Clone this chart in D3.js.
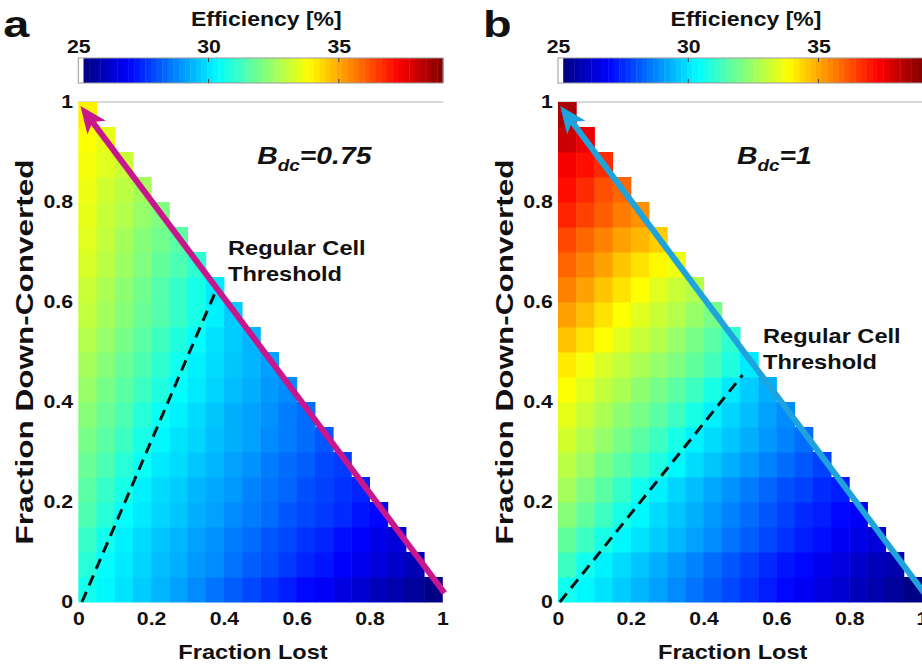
<!DOCTYPE html>
<html>
<head>
<meta charset="utf-8">
<script src="https://cdn.jsdelivr.net/npm/d3@7"></script>
<style>
body { margin: 0; background: #fff; }
text { font-family: "Liberation Sans", Arial, sans-serif; font-weight: bold; fill: #111; }
</style>
</head>
<body>
<div id="chart"></div>
<script>
// efficiency [%], rows bottom-up (fraction down-converted 0, 0.05, ...), columns = fraction lost 0, 0.05, ...
const effA = [
    [30.6, 30.3, 30.0, 29.7, 29.4, 29.1, 28.8, 28.5, 28.2, 27.9, 27.6, 27.3, 27.0, 26.8, 26.5, 26.3, 26.0, 25.8, 25.6, 25.3],
    [30.9, 30.4, 30.1, 29.8, 29.5, 29.3, 29.0, 28.8, 28.5, 28.2, 28.0, 27.7, 27.4, 27.2, 26.9, 26.7, 26.4, 26.2, 25.9],
    [31.1, 30.6, 30.2, 29.9, 29.6, 29.4, 29.1, 28.9, 28.6, 28.4, 28.1, 27.9, 27.6, 27.4, 27.1, 26.9, 26.6, 26.4],
    [31.4, 30.9, 30.4, 30.1, 29.8, 29.6, 29.3, 29.1, 28.8, 28.6, 28.4, 28.1, 27.9, 27.7, 27.5, 27.2, 27.0],
    [31.6, 31.1, 30.7, 30.2, 29.9, 29.7, 29.4, 29.2, 29.0, 28.7, 28.5, 28.3, 28.0, 27.8, 27.6, 27.4],
    [31.8, 31.4, 30.9, 30.5, 30.1, 29.9, 29.6, 29.4, 29.1, 28.9, 28.6, 28.4, 28.2, 27.9, 27.7],
    [32.0, 31.6, 31.2, 30.7, 30.3, 30.0, 29.8, 29.5, 29.3, 29.1, 28.8, 28.6, 28.4, 28.1],
    [32.2, 31.8, 31.4, 30.9, 30.5, 30.2, 29.9, 29.6, 29.3, 29.1, 28.9, 28.6, 28.4],
    [32.4, 32.0, 31.6, 31.2, 30.8, 30.4, 30.1, 29.8, 29.5, 29.3, 29.0, 28.8],
    [32.6, 32.2, 31.8, 31.4, 31.0, 30.6, 30.2, 29.9, 29.6, 29.4, 29.1],
    [32.8, 32.4, 32.0, 31.6, 31.2, 30.8, 30.4, 30.0, 29.7, 29.4],
    [33.0, 32.6, 32.2, 31.8, 31.5, 31.1, 30.7, 30.2, 29.7],
    [33.1, 32.7, 32.3, 31.9, 31.5, 31.1, 30.7, 30.1],
    [33.3, 32.9, 32.5, 32.1, 31.7, 31.4, 31.0],
    [33.4, 33.0, 32.6, 32.2, 31.9, 31.6],
    [33.5, 33.1, 32.8, 32.4, 32.1],
    [33.6, 33.2, 32.9, 32.6],
    [33.7, 33.4, 33.1],
    [33.8, 33.5],
    [34.0]
];

const effB = [
    [30.6, 30.3, 30.0, 29.7, 29.4, 29.1, 28.8, 28.5, 28.2, 27.9, 27.6, 27.3, 27.0, 26.8, 26.5, 26.3, 26.0, 25.8, 25.6, 25.3],
    [31.2, 30.6, 30.2, 29.9, 29.6, 29.3, 29.0, 28.7, 28.4, 28.1, 27.8, 27.5, 27.2, 27.0, 26.7, 26.5, 26.2, 26.0, 25.8],
    [31.7, 31.2, 30.7, 30.3, 30.0, 29.7, 29.4, 29.1, 28.8, 28.5, 28.2, 27.9, 27.6, 27.3, 27.1, 26.8, 26.6, 26.4],
    [32.2, 31.7, 31.2, 30.7, 30.3, 29.9, 29.6, 29.3, 29.0, 28.7, 28.4, 28.1, 27.8, 27.5, 27.3, 27.0, 26.8],
    [32.6, 32.1, 31.6, 31.1, 30.6, 30.2, 29.8, 29.5, 29.2, 28.9, 28.6, 28.3, 28.0, 27.8, 27.5, 27.3],
    [32.9, 32.5, 32.0, 31.6, 31.2, 30.8, 30.3, 29.9, 29.6, 29.3, 29.0, 28.7, 28.4, 28.1, 27.8],
    [33.2, 32.8, 32.4, 32.0, 31.6, 31.2, 30.7, 30.2, 29.9, 29.6, 29.3, 29.0, 28.7, 28.4],
    [33.5, 33.1, 32.7, 32.3, 32.0, 31.6, 31.2, 30.7, 30.2, 29.8, 29.5, 29.1, 28.8],
    [33.8, 33.4, 33.0, 32.7, 32.3, 32.0, 31.6, 31.2, 30.7, 30.1, 29.7, 29.3],
    [34.1, 33.7, 33.3, 33.0, 32.7, 32.4, 32.1, 31.7, 31.3, 30.8, 30.1],
    [34.6, 34.2, 33.8, 33.4, 33.1, 32.8, 32.4, 32.0, 31.6, 31.0],
    [35.1, 34.7, 34.2, 33.8, 33.4, 33.1, 32.8, 32.4, 32.0],
    [35.5, 35.1, 34.6, 34.2, 33.8, 33.4, 33.1, 32.8],
    [35.9, 35.5, 35.1, 34.6, 34.2, 33.9, 33.6],
    [36.3, 35.9, 35.5, 35.1, 34.8, 34.5],
    [36.8, 36.4, 36.0, 35.6, 35.3],
    [37.1, 36.7, 36.2, 35.9],
    [37.4, 37.1, 36.7],
    [38.0, 37.5],
    [38.4]
];

const cellSize = 0.05;
const axisTicks = [0, 0.2, 0.4, 0.6, 0.8, 1];
const colourTicks = [25, 30, 35];
const colourRange = [25, 39];
// regular cell threshold, [fraction lost, fraction down-converted]
const thresholdA = [[0.01, 0], [0.383, 0.631]];
const thresholdB = [[0.005, 0], [0.507, 0.454]];
const arrowPath = [[1.006, 0.018], [0.006, 0.992]];

const width = 922, height = 668;
const SX = 1.18; // the figure text is stretched sideways

const svg = d3.select("#chart")
    .append("svg")
    .attr("width", width)
    .attr("height", height);

// jet colour map, first bin white
const jetStops = [0, 0.125, 0.375, 0.625, 0.875, 1];
const jetLow = 25.2;
const jet = d3.scaleLinear()
    .domain(jetStops.map(t => jetLow + t * (colourRange[1] - jetLow)))
    .range(["#000080", "#0000ff", "#00ffff", "#ffff00", "#ff0000", "#800000"])
    .clamp(true);

function label(g, x, y, str, size, anchor) {
    return g.append("text")
        .attr("transform", `translate(${x},${y}) scale(${SX},1)`)
        .attr("font-size", size)
        .attr("text-anchor", anchor || "start")
        .text(str);
}

const panels = [
    { letter: "a", left: 78.3, eff: effA, bdc: "0.75", arrow: "#c8178c", threshold: thresholdA, note: [228, 255] },
    { letter: "b", left: 558, eff: effB, bdc: "1", arrow: "#1ea3dd", threshold: thresholdB, note: [763, 343] }
];

panels.forEach(function (p) {
    const g = svg.append("g");
    const x = d3.scaleLinear().domain([0, 1]).range([p.left, p.left + 364]);
    const y = d3.scaleLinear().domain([0, 1]).range([602, 102]);
    const cb = d3.scaleLinear().domain(colourRange).range([p.left, p.left + 364.7]);

    // panel letter
    g.append("text")
        .attr("transform", `translate(${p.left - 75},37) scale(1.3,1)`)
        .attr("font-size", 36)
        .text(p.letter);

    // colour bar
    const bar = g.append("g");
    const nBins = 64;
    const binVals = d3.range(nBins).map(i => jetLow + (i + 0.5) * (colourRange[1] - jetLow) / nBins);
    bar.append("rect")
        .attr("x", cb(25)).attr("y", 58)
        .attr("width", cb(jetLow) - cb(25)).attr("height", 25)
        .attr("fill", "#fff");
    bar.selectAll("rect.bin")
        .data(binVals)
        .enter()
        .append("rect")
        .attr("class", "bin")
        .attr("x", (d, i) => cb(jetLow + i * (colourRange[1] - jetLow) / nBins))
        .attr("y", 58)
        .attr("width", (cb(colourRange[1]) - cb(jetLow)) / nBins + 0.4)
        .attr("height", 25)
        .attr("fill", d => jet(d));
    bar.append("rect")
        .attr("x", cb(25)).attr("y", 58)
        .attr("width", cb(colourRange[1]) - cb(25)).attr("height", 25)
        .attr("fill", "none")
        .attr("stroke", "#999")
        .attr("stroke-width", 1);
    bar.selectAll("line.tk")
        .data(colourTicks.slice(1))
        .enter()
        .append("g")
        .each(function (d) {
            d3.select(this).append("line")
                .attr("x1", cb(d)).attr("x2", cb(d)).attr("y1", 58).attr("y2", 62)
                .attr("stroke", "#444");
            d3.select(this).append("line")
                .attr("x1", cb(d)).attr("x2", cb(d)).attr("y1", 79).attr("y2", 83)
                .attr("stroke", "#444");
        });
    const cbAxis = bar.append("g")
        .attr("transform", "translate(0,58)")
        .call(d3.axisTop(cb).tickValues(colourTicks).tickSize(0).tickPadding(5));
    cbAxis.select(".domain").remove();
    cbAxis.attr("font-size", 18).attr("font-family", null);
    cbAxis.selectAll("text").attr("transform", `scale(${SX},1)`);

    label(g, cb(25) + 188, 26, "Efficiency [%]", 19.5, "middle");

    // top frame line
    g.append("line")
        .attr("x1", x(0)).attr("x2", x(1) + 1)
        .attr("y1", y(1)).attr("y2", y(1))
        .attr("stroke", "#d8d8d8")
        .attr("stroke-width", 2);

    // heat map cells
    const cells = [];
    p.eff.forEach((row, r) => row.forEach((v, c) => cells.push({ r: r, c: c, v: v })));
    g.selectAll("rect.cell")
        .data(cells)
        .enter()
        .append("rect")
        .attr("class", "cell")
        .attr("x", d => x(d.c * cellSize))
        .attr("y", d => y((d.r + 1) * cellSize))
        .attr("width", x(cellSize) - x(0) + 0.5)
        .attr("height", y(0) - y(cellSize) + 0.5)
        .attr("fill", d => jet(d.v));

    // axes
    const xAxis = g.append("g")
        .attr("transform", `translate(0,${y(0)})`)
        .call(d3.axisBottom(x).tickValues(axisTicks).tickFormat(d3.format("~g")).tickSize(0).tickPadding(10));
    xAxis.select(".domain").remove();
    xAxis.attr("font-size", 18).attr("font-family", null);
    xAxis.selectAll("text").attr("transform", `scale(${SX},1)`);

    const yAxis = g.append("g")
        .attr("transform", `translate(${x(0)},0)`)
        .call(d3.axisLeft(y).tickValues(axisTicks).tickFormat(d3.format("~g")).tickSize(0).tickPadding(4.5));
    yAxis.select(".domain").remove();
    yAxis.attr("font-size", 18).attr("font-family", null);
    yAxis.selectAll("text").attr("transform", `scale(${SX},1)`);

    label(g, x(0.48), 659, "Fraction Lost", 20, "middle");
    g.append("text")
        .attr("transform", `translate(${p.left - 45},352) rotate(-90) scale(1.5,${SX})`)
        .attr("font-size", 21)
        .attr("text-anchor", "middle")
        .text("Fraction Down-Converted");

    // threshold line
    g.append("path")
        .attr("d", d3.line().x(d => x(d[0])).y(d => y(d[1]))(p.threshold))
        .attr("fill", "none")
        .attr("stroke", "#111")
        .attr("stroke-width", 3)
        .attr("stroke-dasharray", "11,7");

    // arrow along the edge
    const a0 = [x(arrowPath[0][0]), y(arrowPath[0][1])];
    const a1 = [x(arrowPath[1][0]), y(arrowPath[1][1])];
    const len = Math.hypot(a1[0] - a0[0], a1[1] - a0[1]);
    const ux = (a1[0] - a0[0]) / len, uy = (a1[1] - a0[1]) / len;
    const headLen = 27, headHalf = 11.5, notch = 20;
    g.append("line")
        .attr("x1", a0[0]).attr("y1", a0[1])
        .attr("x2", a1[0] - ux * notch).attr("y2", a1[1] - uy * notch)
        .attr("stroke", p.arrow)
        .attr("stroke-width", 6);
    const bx = a1[0] - ux * headLen, by = a1[1] - uy * headLen;
    g.append("path")
        .attr("d", d3.line()([
            a1,
            [bx - uy * headHalf, by + ux * headHalf],
            [a1[0] - ux * notch, a1[1] - uy * notch],
            [bx + uy * headHalf, by - ux * headHalf]
        ]) + "Z")
        .attr("fill", p.arrow);

    // B_dc annotation
    const bt = g.append("text")
        .attr("transform", `translate(${p.left + 179},164) scale(${SX},1)`)
        .attr("font-size", 24)
        .attr("font-style", "italic");
    bt.append("tspan").text("B");
    bt.append("tspan").attr("font-size", 16).attr("dy", 7).text("dc");
    bt.append("tspan").attr("dy", -7).text("=" + p.bdc);

    label(g, p.note[0], p.note[1], "Regular Cell", 20);
    label(g, p.note[0], p.note[1] + 26, "Threshold", 20);
});
</script>
</body>
</html>
